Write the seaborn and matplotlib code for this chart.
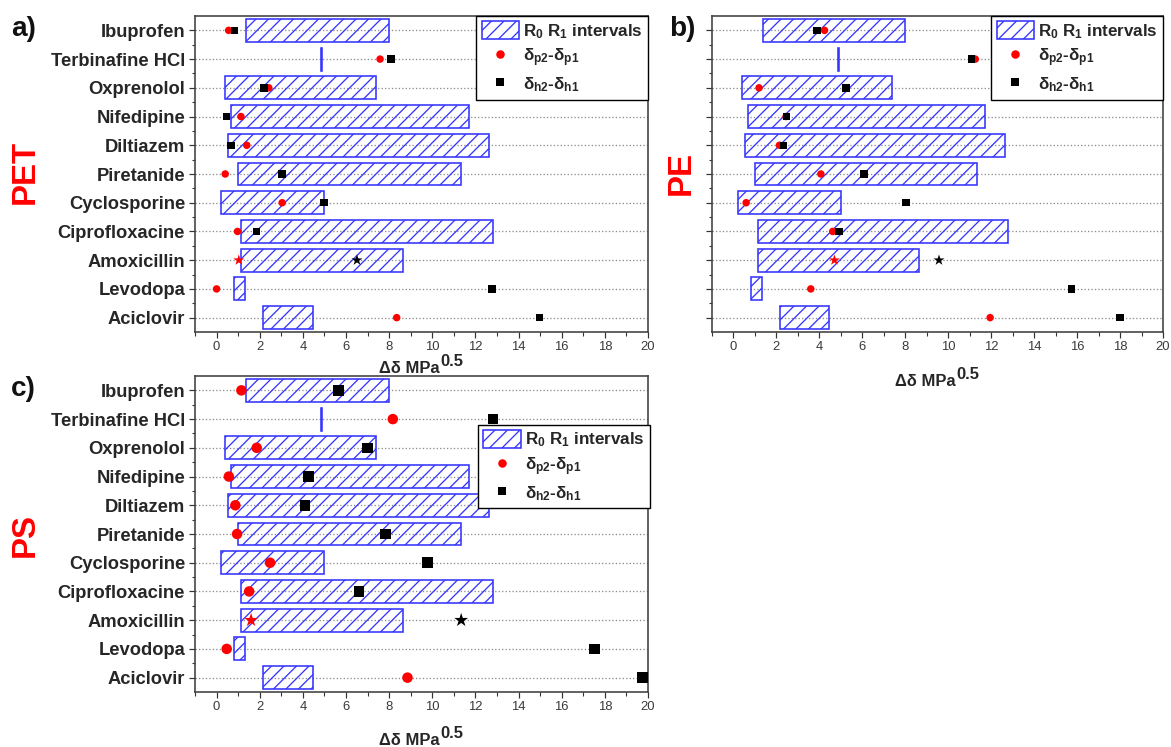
import matplotlib
matplotlib.use("Agg")
import matplotlib.pyplot as plt
import numpy as np
import pandas as pd
import seaborn as sns
from matplotlib.patches import Patch
from matplotlib.lines import Line2D
from matplotlib.ticker import MultipleLocator, FixedLocator

# ---------------- data ----------------
drugs = ["Ibuprofen", "Terbinafine HCl", "Oxprenolol", "Nifedipine", "Diltiazem",
         "Piretanide", "Cyclosporine", "Ciprofloxacine", "Amoxicillin", "Levodopa", "Aciclovir"]
r0 = [1.37, 4.86, 0.38, 0.66, 0.55, 0.98, 0.21, 1.12, 1.12, 0.80, 2.17]
r1 = [7.98, 4.90, 7.40, 11.70, 12.65, 11.33, 5.00, 12.80, 8.63, 1.33, 4.47]

pet_p = [0.56, 7.58, 2.42, 1.13, 1.40, 0.40, 3.04, 0.97, 1.03, 0.00, 8.35]
pet_h = [0.82, 8.08, 2.20, 0.47, 0.67, 3.04, 4.98, 1.84, 6.51, 12.77, 14.97]
pe_p = [4.24, 11.26, 1.19, 2.45, 2.14, 4.07, 0.59, 4.62, 4.70, 3.60, 11.95]
pe_h = [3.88, 11.09, 5.24, 2.48, 2.33, 6.08, 8.04, 4.92, 9.57, 15.75, 18.00]
ps_p = [1.15, 8.17, 1.86, 0.57, 0.87, 0.95, 2.48, 1.51, 1.60, 0.47, 8.85]
ps_h = [5.66, 12.82, 7.00, 4.27, 4.10, 7.84, 9.77, 6.61, 11.34, 17.53, 19.74]
star_drug = "Amoxicillin"

panel_names = ["a)", "b)", "c)"]
polymers = ["PET", "PE", "PS"]
legend_labels = ["R$_0$ R$_1$ intervals", "δ$_{p2}$-δ$_{p1}$", "δ$_{h2}$-δ$_{h1}$"]
x_ticks = [0, 2, 4, 6, 8, 10, 12, 14, 16, 18, 20]

# ---------------- style ----------------
DPI = 150
W, H = 1171, 747


def pt(px):
    return px * 72.0 / DPI


sns.set_style("ticks")
plt.rcParams["font.family"] = ["Liberation Sans", "DejaVu Sans"]
plt.rcParams["mathtext.fontset"] = "custom"
plt.rcParams["mathtext.rm"] = "Liberation Sans:bold"
plt.rcParams["mathtext.bf"] = "Liberation Sans:bold"
plt.rcParams["mathtext.it"] = "Liberation Sans:bold"
plt.rcParams["mathtext.sf"] = "Liberation Sans:bold"
plt.rcParams["mathtext.default"] = "bf"
plt.rcParams["hatch.linewidth"] = pt(1.3)

BLUE = "#3535ff"
HATCH = "////"
fig = plt.figure(figsize=(W / DPI, H / DPI), dpi=DPI)


def fig_rect(left, top, right, bottom):
    return [left / W, 1 - bottom / H, (right - left) / W, (bottom - top) / H]


axes_px = [
    (195, 16, 648, 332),
    (712, 16, 1163, 332),
    (195, 376, 648, 692),
]
panel_data = [(pet_p, pet_h), (pe_p, pe_h), (ps_p, ps_h)]
marker_px = [7.5, 7.5, 10.5]
star_px = [11.5, 11.5, 14.5]
xlabel_drop = [41, 54, 53]
legend_anchor = [(1.0, 1.0), (1.0, 1.0), (1.004, 0.845)]
panel_lab_pos = [(11, 29), (669, 29), (11, 389)]
poly_pos = [(25, 172), (681, 173), (25, 535)]

ypos = np.arange(len(drugs))

for i, (rect, (pv, hv)) in enumerate(zip(axes_px, panel_data)):
    ax = fig.add_axes(fig_rect(*rect))

    # intervals
    widths = [b - a for a, b in zip(r0, r1)]
    ax.barh(ypos, widths, left=r0, height=0.8, facecolor="none", edgecolor=BLUE,
            hatch=HATCH, linewidth=pt(1.6), zorder=2)

    # points
    rows = []
    for k, d in enumerate(drugs):
        rows.append(dict(x=pv[k], y=k, kind="p", star=d == star_drug,
                         shape="p_dot"))
    for k, d in enumerate(drugs):
        rows.append(dict(x=hv[k], y=k, kind="h", star=d == star_drug,
                         shape="h_sq"))
    df = pd.DataFrame(rows)
    pal = {"p": "#ff0000", "h": "#000000"}
    ms = marker_px[i]
    sns.scatterplot(data=df[~df["star"]], x="x", y="y", hue="kind", style="shape",
                    palette=pal, markers={"p_dot": "o", "h_sq": "s"},
                    s=pt(ms) ** 2, linewidth=0, edgecolor="none",
                    legend=False, ax=ax, zorder=3)
    sns.scatterplot(data=df[df["star"]], x="x", y="y", hue="kind",
                    palette=pal, marker="*",
                    s=pt(star_px[i]) ** 2, linewidth=0, edgecolor="none",
                    legend=False, ax=ax, zorder=3)

    ax.set_xlim(-1, 20)
    ax.set_ylim(10.5, -0.5)
    ax.set_xlabel("")
    ax.set_ylabel("")
    ax.xaxis.set_major_locator(FixedLocator(x_ticks))
    ax.xaxis.set_minor_locator(MultipleLocator(1))
    ax.set_xticklabels([str(t) for t in x_ticks])
    ax.yaxis.set_major_locator(FixedLocator(ypos))
    ax.yaxis.set_minor_locator(FixedLocator(ypos[:-1] + 0.5))
    if i == 1:
        ax.set_yticklabels([])
    else:
        ax.set_yticklabels(drugs, fontsize=pt(18.4), fontweight="bold")

    ax.tick_params(axis="x", which="major", direction="out", length=pt(6), width=pt(1.2),
                   labelsize=pt(13), labelcolor="#3a3a3a", pad=pt(3), color="#333333")
    ax.tick_params(axis="x", which="minor", direction="out", length=pt(3.5), width=pt(1.1),
                   color="#333333")
    ax.tick_params(axis="y", which="major", direction="out", length=pt(6), width=pt(1.2),
                   pad=pt(4), color="#333333")
    ax.tick_params(axis="y", which="minor", direction="out", length=pt(3.5), width=pt(1.1),
                   color="#333333")
    for sp in ax.spines.values():
        sp.set_visible(True)
        sp.set_linewidth(pt(1.6))
        sp.set_color("#404040")

    ax.grid(axis="y", which="major", linestyle=":", color="#8c8c8c", linewidth=pt(1.3))
    ax.grid(axis="x", visible=False)
    ax.set_axisbelow(True)

    # x label with full-size superscript
    ah = rect[3] - rect[1]
    yb = -xlabel_drop[i] / ah
    ax.text(0.541, yb, "Δδ MPa", transform=ax.transAxes, ha="right", va="baseline",
            fontsize=pt(16.5), fontweight="bold")
    ax.text(0.542, yb + 7 / ah, "0.5", transform=ax.transAxes, ha="left", va="baseline",
            fontsize=pt(16.5), fontweight="bold")

    # legend
    handles = [
        Patch(facecolor="none", edgecolor=BLUE, hatch=HATCH, linewidth=pt(1.6)),
        Line2D([], [], marker="o", color="#ff0000", linestyle="none", markersize=pt(8.5),
               markeredgewidth=0),
        Line2D([], [], marker="s", color="#000000", linestyle="none", markersize=pt(8.5),
               markeredgewidth=0),
    ]
    leg = ax.legend(handles, legend_labels, loc="upper right",
                    bbox_to_anchor=legend_anchor[i], borderaxespad=0,
                    prop={"weight": "bold", "size": pt(17)}, frameon=True,
                    fancybox=False, handlelength=2.2, handleheight=1.25,
                    handletextpad=0.25, labelspacing=0.35, borderpad=0.3)
    leg.get_frame().set_edgecolor("#000000")
    leg.get_frame().set_linewidth(pt(1.4))
    leg.get_frame().set_facecolor("white")
    leg.get_frame().set_alpha(1)
    leg.set_zorder(5)

# panel letters and polymer labels
for (x, y), t in zip(panel_lab_pos, panel_names):
    fig.text(x / W, 1 - y / H, t, ha="left", va="center", fontsize=pt(28),
             fontweight="bold", color="#111111")
for (x, y), t in zip(poly_pos, polymers):
    fig.text(x / W, 1 - y / H, t, ha="center", va="center", rotation=90,
             fontsize=pt(33), fontweight="bold", color="#ff0000")

fig.savefig("out.png", dpi=DPI)
